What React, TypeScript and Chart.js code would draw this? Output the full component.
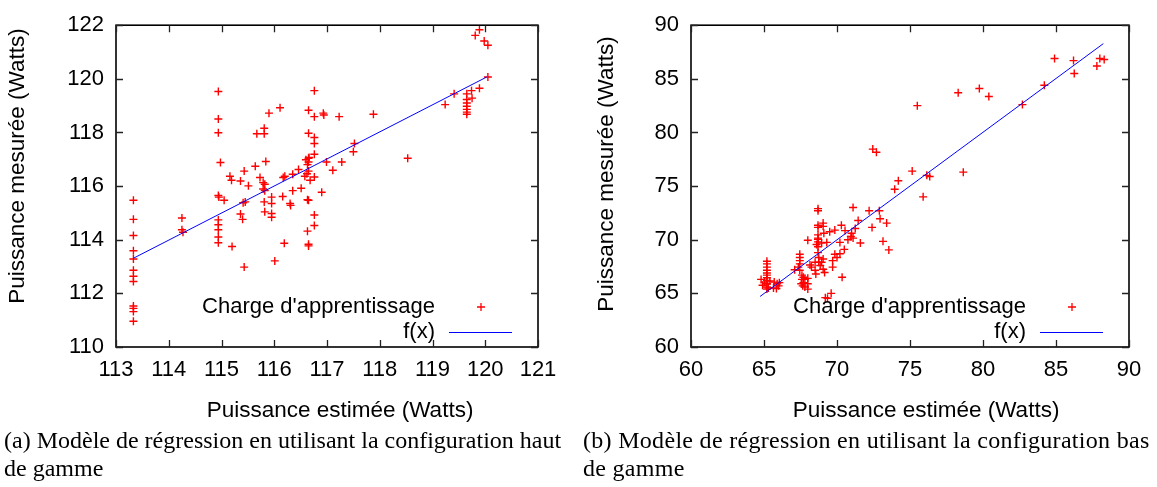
import React, { useEffect, useRef } from 'react';
import { Chart, registerables } from 'chart.js';
Chart.register(...registerables);

// ---------- data ----------
const legendPoints = "Charge d'apprentissage";
const legendLine = 'f(x)';
const xTitle = 'Puissance estimée (Watts)';
const yTitle = 'Puissance mesurée (Watts)';
const captionA = ['(a) Modèle de régression en utilisant la configuration haut', 'de gamme'];
const captionB = ['(b) Modèle de régression en utilisant la configuration bas', 'de gamme'];

const highXTicks = [113, 114, 115, 116, 117, 118, 119, 120, 121];
const highYTicks = [110, 112, 114, 116, 118, 120, 122];
const lowXTicks = [60, 65, 70, 75, 80, 85, 90];
const lowYTicks = [60, 65, 70, 75, 80, 85, 90];

// [estimated, measured]
const highPoints: [number, number][] = [
  [113.33, 115.47], [113.33, 114.76], [113.33, 114.16], [113.33, 113.59], [113.33, 113.28], [113.33, 112.86],
  [113.33, 112.64], [113.33, 112.44], [113.33, 111.53], [113.33, 111.44], [113.33, 111.32], [113.33, 110.96],
  [114.25, 114.81], [114.25, 114.37], [114.27, 114.28],
  [114.94, 119.53], [114.94, 118.5], [114.94, 117.99], [114.98, 116.88], [114.94, 115.65], [114.95, 115.59],
  [114.94, 114.74], [114.94, 114.56], [114.94, 114.37], [114.94, 114.1], [114.94, 113.89], [115.05, 115.47],
  [115.2, 113.75], [115.16, 116.37], [115.19, 116.22], [115.36, 116.19], [115.43, 116.56], [115.51, 116.01],
  [115.64, 116.74], [115.73, 116.32], [115.79, 116.13], [115.82, 116.07], [115.79, 115.89], [115.82, 115.83],
  [115.81, 115.41], [115.41, 115.38], [115.45, 115.41], [115.82, 115.04], [115.95, 114.98], [115.95, 114.84],
  [115.36, 114.96], [115.4, 114.76], [115.43, 112.98], [116.01, 113.21], [115.84, 116.92], [115.81, 118.16],
  [115.67, 117.95], [115.81, 117.95], [115.9, 118.72], [116.11, 118.92], [116.65, 118.83], [116.76, 119.56],
  [116.76, 118.59], [116.93, 118.72], [116.94, 118.65], [117.23, 118.59], [116.65, 117.97], [116.76, 117.81],
  [116.76, 117.59], [116.76, 117.19], [116.65, 117.04], [116.65, 116.9], [116.17, 116.32], [116.2, 116.37],
  [116.35, 116.44], [116.46, 116.62], [116.62, 116.46], [116.65, 116.56], [116.58, 116.37], [116.68, 116.22],
  [116.76, 116.34], [116.63, 116.8], [116.6, 116.98], [116.66, 117.07], [116.99, 116.9], [117.28, 116.9],
  [117.11, 116.59], [116.35, 115.83], [116.51, 115.92], [116.9, 115.77], [116.63, 115.49], [116.65, 115.47],
  [116.16, 115.61], [116.3, 115.35], [116.31, 115.28], [115.95, 115.59], [115.95, 115.35], [116.76, 114.92],
  [116.76, 114.53], [116.63, 114.32], [116.19, 113.87], [116.65, 113.83], [116.65, 113.77], [117.88, 118.68],
  [117.52, 117.59], [117.5, 117.28], [118.53, 117.04], [119.24, 119.04], [119.41, 119.44], [119.65, 119.44],
  [119.65, 119.23], [119.65, 119.1], [119.65, 118.98], [119.65, 118.86], [119.65, 118.76], [119.65, 118.68],
  [119.74, 119.56], [119.75, 119.28], [119.89, 119.65], [120.05, 120.07], [119.89, 121.83], [119.81, 121.62],
  [119.98, 121.41], [120.05, 121.25],
];
const highFit: [number, number][] = [[113.33, 113.31], [120.03, 120.07]];

const lowPoints: [number, number][] = [
  [84.9, 86.9], [86.2, 86.7], [88.0, 86.9], [88.3, 86.8], [87.8, 86.2], [86.25, 85.5], [84.2, 84.4],
  [79.75, 84.1], [78.3, 83.7], [80.4, 83.35], [75.5, 82.5], [82.7, 82.6], [72.45, 78.45], [72.7, 78.15],
  [78.65, 76.3], [75.15, 76.4], [76.15, 76.0], [76.35, 75.9], [74.2, 75.5], [75.9, 74.0], [73.95, 74.7],
  [68.7, 72.9], [68.7, 72.7], [71.1, 73.0], [72.2, 72.7], [72.9, 72.7], [71.45, 71.8], [68.7, 71.35],
  [68.7, 71.15], [69.05, 71.55], [69.05, 71.25], [70.3, 71.35], [69.85, 70.9], [69.5, 70.75], [70.55, 70.85],
  [71.0, 70.6], [71.25, 71.05], [72.95, 71.95], [73.4, 71.55], [72.4, 71.15], [69.1, 70.6], [68.7, 70.15],
  [68.0, 69.95], [68.6, 69.55], [68.95, 69.7], [69.3, 69.75], [70.2, 69.75], [70.75, 70.0], [70.95, 70.3],
  [71.1, 70.15], [71.6, 69.7], [73.15, 69.85], [73.55, 69.05], [70.5, 69.1], [70.2, 68.7], [69.85, 68.65],
  [69.7, 68.05], [70.0, 68.35], [69.7, 67.45], [70.35, 66.5],
  [68.7, 70.45], [68.7, 70.05], [68.7, 69.8], [68.7, 69.35], [68.7, 68.8], [68.75, 68.35], [68.75, 67.9],
  [68.85, 67.6], [68.95, 67.9], [69.05, 68.2], [69.05, 67.25], [69.15, 66.95], [68.5, 67.9], [68.5, 67.15],
  [68.55, 66.8], [68.15, 67.65], [68.25, 67.45],
  [67.45, 68.65], [67.45, 68.35], [67.45, 68.05], [67.45, 67.75], [67.35, 67.45], [67.45, 67.15], [67.1, 67.2],
  [67.6, 66.7], [67.7, 66.5], [67.8, 66.3], [67.6, 66.3], [67.7, 66.0], [68.0, 66.4], [67.55, 65.9],
  [67.65, 65.7], [68.0, 65.9], [67.8, 65.6], [68.0, 65.4],
  [69.2, 64.6], [69.35, 64.55], [69.6, 65.0],
  [65.2, 68.0], [65.2, 67.75], [65.2, 67.45], [65.2, 67.15], [65.2, 66.9], [65.2, 66.7], [65.2, 66.45],
  [65.2, 66.2], [65.2, 65.9], [65.2, 65.6], [65.2, 65.4],
  [64.8, 66.3], [65.05, 66.05], [65.4, 66.15], [65.7, 66.05], [65.9, 65.9], [66.05, 66.0], [65.3, 65.5],
  [65.65, 65.5], [65.85, 65.45], [66.0, 65.7], [64.9, 65.75],
];
const lowFit: [number, number][] = [[64.73, 64.71], [88.24, 88.28]];

// ---------- chart ----------
const FONT = '"Liberation Sans", Arial, Helvetica, sans-serif';

const framePlugin = {
  id: 'gnuframe',
  afterDraw(chart: any, _args: any, opts: any) {
    const { ctx, chartArea: a, scales } = chart;
    ctx.save();
    ctx.strokeStyle = '#000';
    ctx.lineWidth = 1.6;
    ctx.strokeRect(a.left, a.top, a.right - a.left, a.bottom - a.top);
    ctx.lineWidth = 1.3;
    ctx.strokeStyle = '#222';
    const tl = 7;
    ctx.beginPath();
    for (const v of opts.xTicks) {
      const p = Math.round(scales.x.getPixelForValue(v)) + 0.5;
      ctx.moveTo(p, a.bottom); ctx.lineTo(p, a.bottom - tl);
      ctx.moveTo(p, a.top); ctx.lineTo(p, a.top + tl);
    }
    for (const v of opts.yTicks) {
      const p = Math.round(scales.y.getPixelForValue(v)) + 0.5;
      ctx.moveTo(a.left, p); ctx.lineTo(a.left + tl, p);
      ctx.moveTo(a.right, p); ctx.lineTo(a.right - tl, p);
    }
    ctx.stroke();

    // axis titles (gnuplot places them slightly off-centre)
    ctx.font = `22.5px ${FONT}`;
    ctx.fillStyle = '#000';
    ctx.textAlign = 'center';
    ctx.textBaseline = 'middle';
    ctx.fillText(xTitle, (a.left + a.right) / 2 + opts.xTitleDx, opts.xTitleY);
    ctx.save();
    ctx.translate(opts.yTitleX, (a.top + a.bottom) / 2 - opts.yTitleDy);
    ctx.rotate(-Math.PI / 2);
    ctx.fillText(yTitle, 0, 0);
    ctx.restore();

    // legend (gnuplot style: text right-aligned, sample on the right)
    ctx.font = `22px ${FONT}`;
    ctx.textAlign = 'right';
    const y1 = a.bottom - 40;
    const y2 = a.bottom - 15;
    ctx.fillText(legendPoints, a.right - 103, y1);
    ctx.fillText(legendLine, a.right - 103, y2);
    const mx = a.right - 57;
    ctx.strokeStyle = '#ff0000';
    ctx.lineWidth = 1.3;
    ctx.beginPath();
    ctx.moveTo(mx - 4, y1); ctx.lineTo(mx + 4, y1);
    ctx.moveTo(mx, y1 - 4); ctx.lineTo(mx, y1 + 4);
    ctx.stroke();
    ctx.strokeStyle = '#0000ff';
    ctx.lineWidth = 1;
    ctx.beginPath();
    ctx.moveTo(a.right - 89, y2 + 0.5); ctx.lineTo(a.right - 26, y2 + 0.5);
    ctx.stroke();
    ctx.restore();
  },
};

type Props = {
  points: [number, number][];
  fit: [number, number][];
  xTicks: number[];
  yTicks: number[];
  width: number;
  height: number;
  yAxisWidth: number;
  rightPad: number;
  topPad: number;
  xAxisHeight: number;
  yTitleX: number;
  yTitleDy: number;
  xTitleDx: number;
  xTitleY: number;
};

function GnuScatter(p: Props) {
  const ref = useRef<HTMLCanvasElement | null>(null);
  useEffect(() => {
    if (!ref.current) return;
    const tickFont = { family: FONT, size: 22 };
    const chart = new Chart(ref.current, {
      type: 'scatter',
      data: {
        datasets: [
          {
            type: 'line',
            label: legendLine,
            data: p.fit.map(([x, y]) => ({ x, y })),
            borderColor: '#0000ff',
            borderWidth: 1,
            pointRadius: 0,
            fill: false,
            tension: 0,
          } as any,
          {
            label: legendPoints,
            data: p.points.map(([x, y]) => ({ x, y })),
            pointStyle: 'cross',
            pointRadius: 4,
            borderColor: '#ff0000',
            backgroundColor: '#ff0000',
            borderWidth: 1.4,
          },
        ],
      },
      options: {
        responsive: false,
        animation: false,
        devicePixelRatio: 1,
        layout: { padding: { left: 0, right: p.rightPad, top: p.topPad, bottom: 0 } },
        plugins: {
          legend: { display: false },
          tooltip: { enabled: false },
          gnuframe: {
            xTicks: p.xTicks, yTicks: p.yTicks,
            yTitleX: p.yTitleX, yTitleDy: p.yTitleDy, xTitleDx: p.xTitleDx, xTitleY: p.xTitleY,
          },
        } as any,
        scales: {
          x: {
            type: 'linear',
            min: p.xTicks[0],
            max: p.xTicks[p.xTicks.length - 1],
            grid: { display: false, drawTicks: false },
            border: { display: false },
            ticks: { font: tickFont, color: '#000', padding: 10, autoSkip: false, maxRotation: 0 },
            afterBuildTicks: (s: any) => { s.ticks = p.xTicks.map((v) => ({ value: v })); },
            afterFit: (s: any) => { s.height = p.xAxisHeight; },
          },
          y: {
            type: 'linear',
            min: p.yTicks[0],
            max: p.yTicks[p.yTicks.length - 1],
            grid: { display: false, drawTicks: false },
            border: { display: false },
            ticks: { font: tickFont, color: '#000', padding: 12 },
            afterBuildTicks: (s: any) => { s.ticks = p.yTicks.map((v) => ({ value: v })); },
            afterFit: (s: any) => { s.width = p.yAxisWidth; },
          },
        },
      },
      plugins: [framePlugin],
    } as any);
    return () => chart.destroy();
  }, []);
  return <canvas ref={ref} width={p.width} height={p.height} style={{ display: 'block', width: p.width, height: p.height }} />;
}

const captionStyle: React.CSSProperties = {
  position: 'absolute',
  top: 426,
  fontFamily: '"Liberation Serif", "Times New Roman", serif',
  fontSize: 24,
  lineHeight: '28px',
  color: '#000',
  whiteSpace: 'nowrap',
};

export default function App() {
  return (
    <div style={{ position: 'absolute', left: 0, top: 0, width: 1157, height: 487, background: '#fff', overflow: 'hidden' }}>
      <div style={{ position: 'absolute', left: 0, top: 0 }}>
        <GnuScatter points={highPoints} fit={highFit} xTicks={highXTicks} yTicks={highYTicks}
          width={580} height={430} yAxisWidth={116} rightPad={42} topPad={17} xAxisHeight={83}
          yTitleX={18} yTitleDy={20} xTitleDx={13} xTitleY={411} />
      </div>
      <div style={{ position: 'absolute', left: 580, top: 0 }}>
        <GnuScatter points={lowPoints} fit={lowFit} xTicks={lowXTicks} yTicks={lowYTicks}
          width={577} height={430} yAxisWidth={111} rightPad={28} topPad={16} xAxisHeight={83}
          yTitleX={27} yTitleDy={12} xTitleDx={16} xTitleY={411} />
      </div>
      <div style={{ ...captionStyle, left: 4 }}>{captionA[0]}<br />{captionA[1]}</div>
      <div style={{ ...captionStyle, left: 583, letterSpacing: '0.3px' }}>{captionB[0]}<br />{captionB[1]}</div>
    </div>
  );
}
